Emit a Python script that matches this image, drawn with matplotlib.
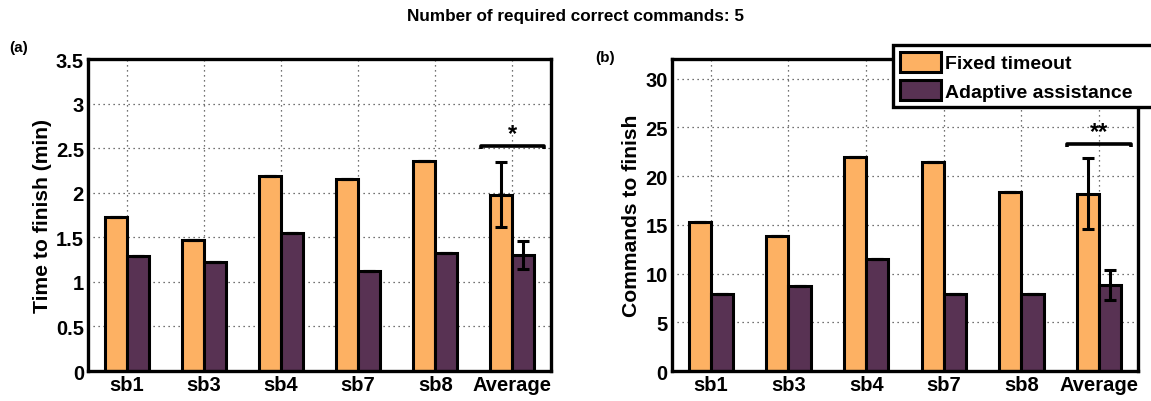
"""Grouped bar panels: time and commands needed to finish, per subject."""

import matplotlib

matplotlib.use("Agg")
import matplotlib.pyplot as plt
import numpy as np
from matplotlib.patches import Patch
from matplotlib.ticker import FuncFormatter

plt.rcParams["font.family"] = ["Liberation Sans", "DejaVu Sans"]
plt.rcParams["font.weight"] = "bold"

subjects = ["sb1", "sb3", "sb4", "sb7", "sb8", "Average"]

time_fixed = [1.73, 1.47, 2.19, 2.15, 2.36, 1.98]
time_fixed_err = [0, 0, 0, 0, 0, 0.37]
time_adaptive = [1.29, 1.22, 1.55, 1.12, 1.32, 1.30]
time_adaptive_err = [0, 0, 0, 0, 0, 0.16]

cmd_fixed = [15.3, 13.8, 21.9, 21.4, 18.4, 18.2]
cmd_fixed_err = [0, 0, 0, 0, 0, 3.65]
cmd_adaptive = [7.95, 8.7, 11.5, 7.9, 7.95, 8.8]
cmd_adaptive_err = [0, 0, 0, 0, 0, 1.55]

# significance bracket over the Average group: (height, stars)
time_sig = (2.52, "*")
cmd_sig = (23.3, "**")

ORANGE = "#FDB163"
PURPLE = "#583253"
BAR_W = 2 / 3.5 / 2


def draw_panel(ax, fixed, fixed_err, adaptive, adaptive_err, ylim, yticks, ylabel, sig):
    x = np.arange(1, len(subjects) + 1)
    ax.set_axisbelow(True)
    ax.grid(True, linestyle=(0, (1, 3)), color="#444444", linewidth=0.9)

    ax.bar(x - BAR_W / 2, fixed, BAR_W, color=ORANGE, edgecolor="black",
           linewidth=2.2, zorder=2)
    ax.bar(x + BAR_W / 2, adaptive, BAR_W, color=PURPLE, edgecolor="black",
           linewidth=2.2, zorder=2)
    ax.errorbar(x - BAR_W / 2, fixed, yerr=fixed_err, fmt="none", ecolor="black",
                elinewidth=2.2, capsize=4, capthick=2.2, zorder=3)
    ax.errorbar(x + BAR_W / 2, adaptive, yerr=adaptive_err, fmt="none",
                ecolor="black", elinewidth=2.2, capsize=4, capthick=2.2, zorder=3)

    # bracket with little down-turned ends
    h, stars = sig
    xc = x[-1]
    drop = (ylim[1] - ylim[0]) * 0.01
    ax.plot([xc - 0.41, xc - 0.41, xc + 0.41, xc + 0.41],
            [h - drop, h, h, h - drop], color="black", linewidth=2.6,
            solid_capstyle="butt", zorder=4)
    ax.text(xc, h + drop * 0.4, stars, ha="center", va="bottom",
            fontsize=17, fontweight="bold", zorder=4)

    ax.set_xlim(0.5, len(subjects) + 0.5)
    ax.set_ylim(*ylim)
    ax.set_xticks(x)
    ax.set_xticklabels(subjects)
    ax.set_yticks(yticks)
    ax.yaxis.set_major_formatter(FuncFormatter(lambda v, _: f"{v:g}"))
    ax.tick_params(length=0, labelsize=14.5, pad=3)
    for lab in ax.get_xticklabels() + ax.get_yticklabels():
        lab.set_fontweight("bold")
    ax.set_ylabel(ylabel, fontsize=15.2, fontweight="bold", labelpad=3)
    for s in ax.spines.values():
        s.set_linewidth(2.4)


fig = plt.figure(figsize=(11.51, 4.02), dpi=100)
ax_a = fig.add_axes([0.0765, 0.0746, 0.4022, 0.7761])
ax_b = fig.add_axes([0.5838, 0.0746, 0.4049, 0.7761])

draw_panel(ax_a, time_fixed, time_fixed_err, time_adaptive, time_adaptive_err,
           (0, 3.5), np.arange(0, 3.51, 0.5), "Time to finish (min)", time_sig)
draw_panel(ax_b, cmd_fixed, cmd_fixed_err, cmd_adaptive, cmd_adaptive_err,
           (0, 32), np.arange(0, 31, 5), "Commands to finish", cmd_sig)

fig.suptitle("Number of required correct commands: 5", y=0.958, fontsize=12.3,
             fontweight="bold", va="center")
fig.text(0.008, 0.88, "(a)", fontsize=11, fontweight="bold", va="center")
fig.text(0.517, 0.856, "(b)", fontsize=11, fontweight="bold", va="center")

handles = [
    Patch(facecolor=ORANGE, edgecolor="black", linewidth=2.2, label="Fixed timeout"),
    Patch(facecolor=PURPLE, edgecolor="black", linewidth=2.2,
          label="Adaptive assistance"),
]
# box runs off the right edge of the figure
leg = fig.legend(handles=handles, loc="upper left", mode="expand",
                 bbox_to_anchor=(893 / 1151, 1 - 46 / 402, 0.26, 0),
                 borderaxespad=0, prop={"weight": "bold", "size": 14},
                 handlelength=2.1, handleheight=1.2, handletextpad=0.2,
                 borderpad=0.35, labelspacing=0.4, fancybox=False,
                 edgecolor="black", framealpha=1)
leg.get_frame().set_linewidth(2.4)
leg.set_zorder(10)

fig.savefig("out.png", dpi=100)
